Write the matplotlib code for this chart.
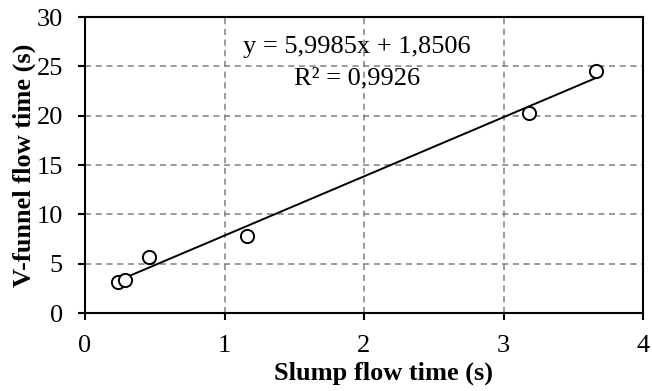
import matplotlib
matplotlib.use("Agg")
import matplotlib.pyplot as plt
import numpy as np

plt.rcParams['font.family'] = ['Liberation Serif', 'DejaVu Serif']

slump = [0.24, 0.29, 0.46, 1.16, 3.18, 3.66]
vfunnel = [3.15, 3.35, 5.7, 7.85, 20.3, 24.5]
slope = 5.9985
intercept = 1.8506
r2 = 0.9926
xticks = [0, 1, 2, 3, 4]
yticks = [0, 5, 10, 15, 20, 25, 30]

FS = 19
W, H = 652, 391
fig = plt.figure(figsize=(W/100, H/100), dpi=100)
ax = fig.add_axes([85/W, 1-313/H, (643-85)/W, (313-17)/H])

xs = np.array([min(slump), max(slump)])
ax.plot(xs, slope*xs + intercept, color='black', lw=1.4, zorder=3)
ax.plot(slump, vfunnel, 'o', ms=9.5, mfc='white', mec='black', mew=1.4, zorder=4)

ax.set_xlim(0, 4)
ax.set_ylim(0, 30)
ax.set_xticks(xticks)
ax.set_yticks(yticks)
ax.grid(True, color='#808080', ls=(0, (4, 3)), lw=1.1)
ax.set_axisbelow(True)
for s in ['left', 'bottom', 'top', 'right']:
    ax.spines[s].set_linewidth(1.5)
ax.tick_params(axis='both', direction='out', length=5, width=1.5, labelsize=FS, color='black')
ax.tick_params(axis='x', pad=11)
ax.tick_params(axis='y', pad=11)

ax.set_xlabel('Slump flow time (s)', fontsize=FS, fontweight='bold', va='center')
ax.xaxis.set_label_coords((383-85)/(643-85), -(373-313)/(313-17))
ax.set_ylabel('V-funnel flow time (s)', fontsize=FS, fontweight='bold', va='center')
ax.yaxis.set_label_coords(-(85-24)/(643-85), 0.5)

eq = f"y = {slope:.4f}x + {intercept:.4f}".replace('.', ',')
r2t = f"R² = {r2:.4f}".replace('.', ',')
fig.text(357/W, 1-47/H, eq, ha='center', va='center', fontsize=FS)
fig.text(357/W, 1-78/H, r2t, ha='center', va='center', fontsize=FS)

fig.savefig('out.png', dpi=100)
